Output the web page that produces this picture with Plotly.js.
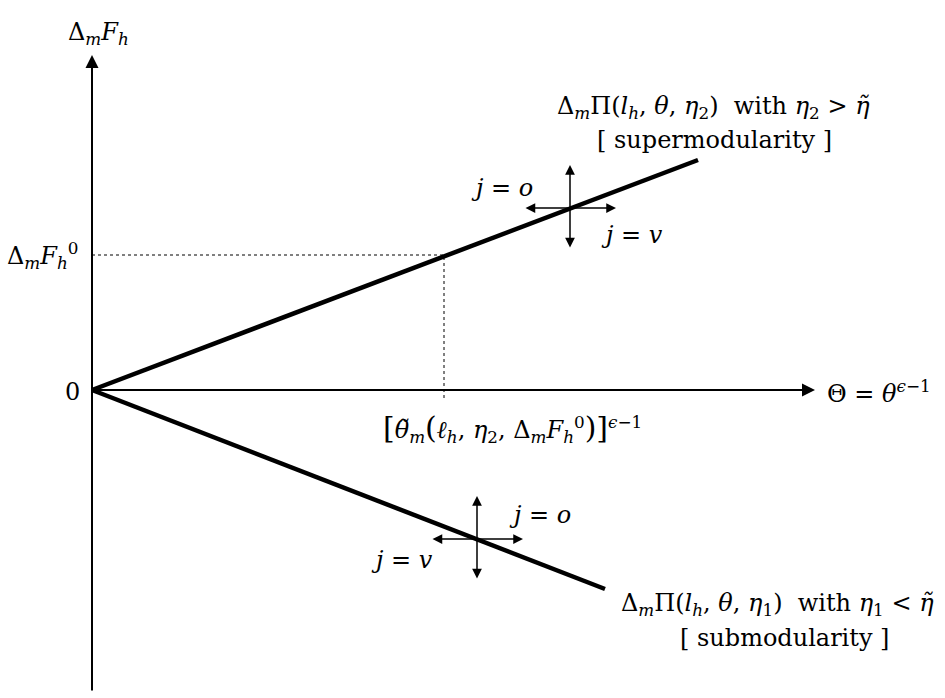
<!DOCTYPE html>
<html>
<head>
<meta charset="utf-8">
<script src="https://cdn.plot.ly/plotly-3.0.1.min.js"></script>
<style>
  body { margin: 0; background: #fff; }
  #chart { width: 945px; height: 698px; }
</style>
</head>
<body>
<div id="chart"></div>
<script>
// Schematic values (Theta on x, Delta_m F_h on y), origin at 0
const thetaUpper = [0, 6.06];   // eta_2 > eta~ (supermodular)
const fUpper = [0, 2.30];
const thetaLower = [0, 5.13];   // eta_1 < eta~ (submodular)
const fLower = [0, -1.99];
const refTheta = [3.52];        // threshold theta~ ^(eps-1)
const refF = [1.35];            // Delta_m F_h^0
const crossTheta = [4.78, 3.85];
const crossF = [1.82, -1.49];

const serif = 'DejaVu Serif, serif';
const txt = (x, y, text, extra) => Object.assign({
    x: x, y: y, xref: 'x', yref: 'y', text: text, showarrow: false,
    font: { family: serif, size: 24, color: '#000' }
}, extra || {});

const arrow = (x0, y0, x1, y1, w, size, side) => ({
    x: x1, y: y1, ax: x0, ay: y0, xref: 'x', yref: 'y', axref: 'x', ayref: 'y',
    text: '', showarrow: true, arrowhead: 2, startarrowhead: 2,
    arrowsize: size, startarrowsize: size, arrowwidth: w,
    arrowcolor: '#000', arrowside: side || 'end'
});

const big = s => '<span style="font-size:30px">' + s + '</span>';

const traces = [
    { x: thetaUpper, y: fUpper, mode: 'lines', line: { color: '#000', width: 4.5 } },
    { x: thetaLower, y: fLower, mode: 'lines', line: { color: '#000', width: 4.5 } },
    {
        x: [0, refTheta[0], refTheta[0]], y: [refF[0], refF[0], -0.08],
        mode: 'lines', line: { color: '#000', width: 1, dash: 'dot' }
    }
];

const annotations = [
    // axes
    arrow(0, -3.02, 0, 3.35, 2, 1.3),
    arrow(0, 0, 7.23, 0, 2, 1.3),
    txt(0.06, 3.57, 'Δ<sub><i>m</i></sub><i>F</i><sub><i>h</i></sub>'),
    txt(-0.12, refF[0], 'Δ<sub><i>m</i></sub><i>F</i><sub><i>h</i></sub><sup>0</sup>', { xanchor: 'right' }),
    txt(-0.10, -0.02, '0', { xanchor: 'right' }),
    txt(7.33, -0.02, 'Θ = <i>θ</i><sup><i>ϵ</i>−1</sup>', { xanchor: 'left' }),
    txt(4.20, -0.38, big('[') + '<i>θ̃</i><sub><i>m</i></sub>' + big('(') + '<i>ℓ</i><sub><i>h</i></sub>, <i>η</i><sub>2</sub>, Δ<sub><i>m</i></sub><i>F</i><sub><i>h</i></sub><sup>0</sup>' + big(')]') + '<sup><i>ϵ</i>−1</sup>'),
    // curve labels
    txt(6.21, 2.83, 'Δ<sub><i>m</i></sub>Π(<i>l</i><sub><i>h</i></sub>, <i>θ</i>, <i>η</i><sub>2</sub>)\u00a0 with <i>η</i><sub>2</sub> > <i>η̃</i>'),
    txt(6.22, 2.50, '[ supermodularity ]'),
    txt(6.85, -2.14, 'Δ<sub><i>m</i></sub>Π(<i>l</i><sub><i>h</i></sub>, <i>θ</i>, <i>η</i><sub>1</sub>)\u00a0 with <i>η</i><sub>1</sub> < <i>η̃</i>'),
    txt(6.92, -2.48, '[ submodularity ]'),
    // direction labels
    txt(4.10, 2.02, '<i>j</i> = <i>o</i>'),
    txt(5.40, 1.55, '<i>j</i> = <i>v</i>'),
    txt(4.48, -1.25, '<i>j</i> = <i>o</i>'),
    txt(3.10, -1.70, '<i>j</i> = <i>v</i>')
];

// double arrows crossing each curve
crossTheta.forEach(function (t, i) {
    const f = crossF[i];
    annotations.push(arrow(t, f - 0.41, t, f + 0.43, 1.5, 1.3, 'end+start'));
    annotations.push(arrow(t - 0.46, f, t + 0.46, f, 1.5, 1.3, 'end+start'));
});

const layout = {
    width: 945,
    height: 698,
    margin: { t: 0, r: 0, b: 0, l: 0 },
    paper_bgcolor: '#fff',
    plot_bgcolor: '#fff',
    showlegend: false,
    xaxis: { range: [-0.92, 8.53], visible: false, fixedrange: true },
    yaxis: { range: [-3.08, 3.90], visible: false, fixedrange: true },
    annotations: annotations
};

Plotly.newPlot('chart', traces, layout, { displayModeBar: false, staticPlot: true });
</script>
</body>
</html>
